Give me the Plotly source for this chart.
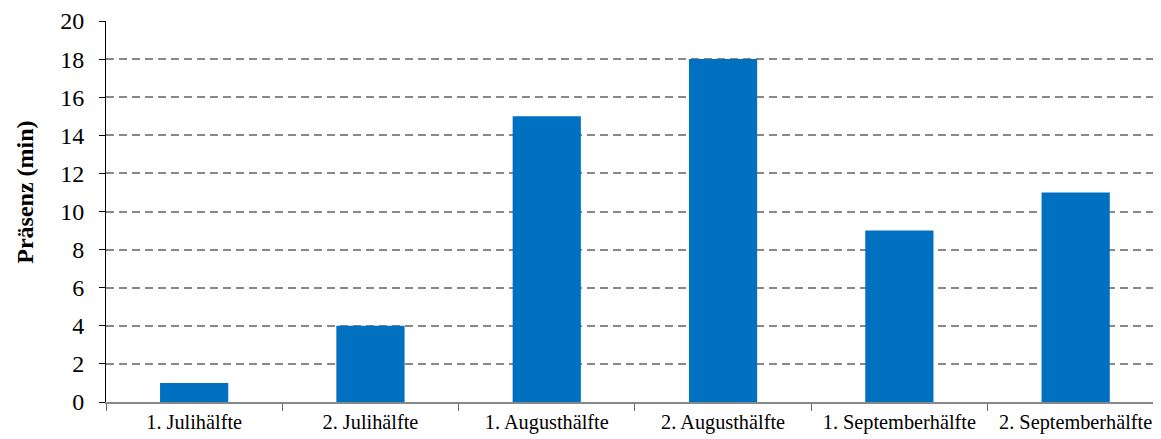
import plotly.graph_objects as go

categories = ["1. Julihälfte", "2. Julihälfte", "1. Augusthälfte", "2. Augusthälfte",
              "1. Septemberhälfte", "2. Septemberhälfte"]
values = [1, 4, 15, 18, 9, 11]
y_ticks = list(range(0, 21, 2))
y_title = "Präsenz (min)"

FONT = "Liberation Serif, Times New Roman, serif"

fig = go.Figure()
fig.add_trace(go.Bar(
    x=categories, y=values, width=0.387,
    marker=dict(color="#0070C0", line=dict(width=0)),
))

fig.update_layout(
    width=1153, height=431,
    margin=dict(l=98, r=0, t=13, b=37),
    plot_bgcolor="white", paper_bgcolor="white",
    showlegend=False,
    font=dict(family=FONT, color="black"),
    xaxis=dict(
        type="category",
        range=[-0.5, 5.484],
        tickson="boundaries",
        ticks="outside", ticklen=7, tickcolor="#666666", tickwidth=1,
        showline=True, linecolor="#888888", linewidth=1.5,
        showgrid=False,
        tickfont=dict(family=FONT, size=20.3, color="black"),
        ticklabelstandoff=1,
    ),
    yaxis=dict(
        range=[0, 20],
        tickvals=y_ticks,
        ticks="outside", ticklen=6, tickcolor="black", tickwidth=1,
        showline=True, linecolor="black", linewidth=1,
        showgrid=True, gridcolor="#888888", griddash="8px,5px", gridwidth=1.5,
        zeroline=False,
        tickfont=dict(family=FONT, size=24, color="black"),
        ticklabelstandoff=10,
    ),
    annotations=[dict(
        text="<b>" + y_title + "</b>", textangle=-90,
        xref="paper", yref="paper", x=-0.0765, y=0.55,
        xanchor="center", yanchor="middle", showarrow=False,
        font=dict(family=FONT, size=24, color="black"),
    )],
)

fig.write_html("out.html")
